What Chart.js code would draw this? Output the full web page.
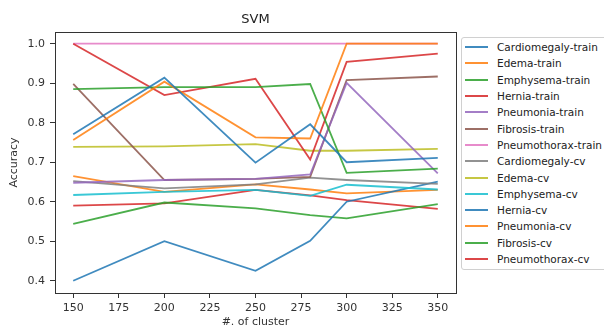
<!DOCTYPE html>
<html>
<head>
<meta charset="UTF-8">
<title>SVM</title>
<script src="https://cdn.jsdelivr.net/npm/chart.js"></script>
<style>
    body { margin: 0; background: white; }
    .wrap { position: relative; width: 604px; height: 329px; overflow: hidden; font-family: "DejaVu Sans", sans-serif; }
    #legend {
        position: absolute; left: 461px; top: 37px; width: 150px; height: 233px;
        border: 1px solid #d0d0d0; border-radius: 3px; box-sizing: border-box;
        padding-top: 1px; background: white;
    }
    #legend .item { height: 16.3px; display: flex; align-items: center; font-size: 10.5px; color: #222; white-space: nowrap; }
    #legend .swatch { width: 23px; height: 2px; margin-left: 3px; margin-right: 9px; }
</style>
</head>
<body>
<div class="wrap">
    <canvas id="chart" width="604" height="329"></canvas>
    <div id="legend"></div>
</div>
<script>
    const clusters = [150, 200, 250, 280, 300, 350];
    const xTicks = [150, 175, 200, 225, 250, 275, 300, 325, 350];
    const yTicks = [0.4, 0.5, 0.6, 0.7, 0.8, 0.9, 1.0];

    const seriesNames = [
        "Cardiomegaly-train", "Edema-train", "Emphysema-train", "Hernia-train",
        "Pneumonia-train", "Fibrosis-train", "Pneumothorax-train",
        "Cardiomegaly-cv", "Edema-cv", "Emphysema-cv", "Hernia-cv",
        "Pneumonia-cv", "Fibrosis-cv", "Pneumothorax-cv"
    ];

    const cardiomegalyTrain = [0.771, 0.914, 0.699, 0.796, 0.700, 0.711];
    const edemaTrain        = [0.756, 0.904, 0.763, 0.760, 1.0, 1.0];
    const emphysemaTrain    = [0.885, 0.890, 0.890, 0.898, 0.673, 0.684];
    const herniaTrain       = [1.0, 0.870, 0.911, 0.707, 0.954, 0.975];
    const pneumoniaTrain    = [0.648, 0.655, 0.658, 0.669, 0.901, 0.672];
    const fibrosisTrain     = [0.898, 0.655, 0.658, 0.663, 0.908, 0.917];
    const pneumothoraxTrain = [1.0, 1.0, 1.0, 1.0, 1.0, 1.0];
    const cardiomegalyCv    = [0.652, 0.634, 0.644, 0.661, 0.655, 0.645];
    const edemaCv           = [0.739, 0.740, 0.746, 0.729, 0.729, 0.734];
    const emphysemaCv       = [0.617, 0.625, 0.630, 0.615, 0.643, 0.631];
    const herniaCv          = [0.400, 0.500, 0.425, 0.501, 0.600, 0.651];
    const pneumoniaCv       = [0.665, 0.625, 0.644, 0.631, 0.621, 0.630];
    const fibrosisCv        = [0.544, 0.598, 0.583, 0.566, 0.558, 0.594];
    const pneumothoraxCv    = [0.590, 0.596, 0.630, 0.616, 0.604, 0.582];

    const seriesValues = [
        cardiomegalyTrain, edemaTrain, emphysemaTrain, herniaTrain,
        pneumoniaTrain, fibrosisTrain, pneumothoraxTrain,
        cardiomegalyCv, edemaCv, emphysemaCv, herniaCv,
        pneumoniaCv, fibrosisCv, pneumothoraxCv
    ];

    // matplotlib tab10 cycle
    const palette = ["#1f77b4", "#ff7f0e", "#2ca02c", "#d62728", "#9467bd",
                     "#8c564b", "#e377c2", "#7f7f7f", "#bcbd22", "#17becf"];

    const hexToRgba = (hex, a) => {
        const n = parseInt(hex.slice(1), 16);
        return `rgba(${n >> 16}, ${(n >> 8) & 255}, ${n & 255}, ${a})`;
    };

    const datasets = seriesNames.map((name, i) => ({
        label: name,
        data: clusters.map((x, j) => ({ x, y: seriesValues[i][j] })),
        borderColor: hexToRgba(palette[i % palette.length], 0.85),
        borderWidth: 1.8,
        pointRadius: 0,
        tension: 0,
        fill: false,
    }));

    const frame = {
        id: "frame",
        afterDraw(chart) {
            const { ctx, chartArea: a } = chart;
            ctx.save();
            ctx.strokeStyle = "#333";
            ctx.lineWidth = 1;
            ctx.strokeRect(a.left + 0.5, a.top + 0.5, a.right - a.left, a.bottom - a.top);
            ctx.fillStyle = "#222";
            ctx.font = "13px 'DejaVu Sans'";
            ctx.textAlign = "center";
            ctx.textBaseline = "middle";
            ctx.fillText("SVM", (a.left + a.right) / 2, 20);
            ctx.restore();
        }
    };

    const tickFont = { family: "DejaVu Sans", size: 11 };

    new Chart(document.getElementById("chart"), {
        type: "line",
        data: { datasets },
        options: {
            responsive: false,
            animation: false,
            layout: { padding: { left: 0, right: 148, top: 32, bottom: 0 } },
            plugins: { legend: { display: false }, tooltip: { enabled: false } },
            scales: {
                x: {
                    type: "linear",
                    min: 140, max: 360,
                    afterBuildTicks: s => { s.ticks = xTicks.map(v => ({ value: v })); },
                    afterFit: s => { s.height = 36; },
                    grid: { drawOnChartArea: false, drawTicks: true, tickLength: 5, color: "#333" },
                    border: { display: false },
                    ticks: { color: "#333", font: tickFont, padding: 4, maxRotation: 0 },
                    title: { display: true, text: "#. of cluster", color: "#333", font: tickFont, padding: { top: 0, bottom: 0 } }
                },
                y: {
                    min: 0.369, max: 1.0296,
                    afterBuildTicks: s => { s.ticks = yTicks.map(v => ({ value: v })); },
                    afterFit: s => { s.width = 55; },
                    grid: { drawOnChartArea: false, drawTicks: true, tickLength: 5, color: "#333" },
                    border: { display: false },
                    ticks: { color: "#333", font: tickFont, padding: 5, callback: v => v.toFixed(1) },
                    title: { display: true, text: "Accuracy", color: "#333", font: tickFont, padding: { top: 8, bottom: 0 } }
                }
            }
        },
        plugins: [frame]
    });

    const legend = document.getElementById("legend");
    seriesNames.forEach((name, i) => {
        const item = document.createElement("div");
        item.className = "item";
        item.innerHTML = `<span class="swatch" style="background:${hexToRgba(palette[i % palette.length], 0.85)}"></span>${name}`;
        legend.appendChild(item);
    });
</script>
</body>
</html>
